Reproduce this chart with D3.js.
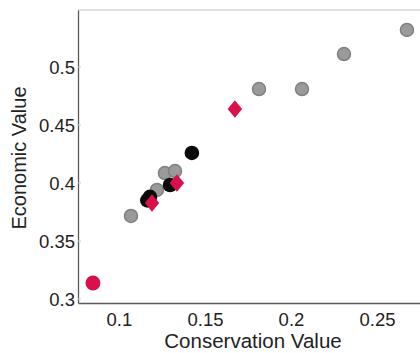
<!DOCTYPE html>
<html>
<head>
<meta charset="utf-8">
<script src="https://d3js.org/d3.v7.min.js"></script>
<style>
  body { margin: 0; background: #fff; }
  svg { display: block; font-family: "Liberation Sans", Arial, sans-serif; }
</style>
</head>
<body>
<svg id="chart" width="420" height="353"></svg>
<script>
// Data
const grayX = [0.107, 0.1221, 0.1267, 0.1326, 0.1814, 0.2064, 0.2308, 0.2674];
const grayY = [0.3716, 0.394, 0.4086, 0.4103, 0.481, 0.481, 0.5112, 0.5319];
const blackX = [0.1165, 0.118, 0.1297, 0.1424];
const blackY = [0.385, 0.388, 0.3983, 0.4259];
const redX = [0.0849, 0.1192, 0.1337, 0.1674];
const redY = [0.3138, 0.3828, 0.40, 0.4638];
const redShape = ['circle', 'diamond', 'diamond', 'diamond'];
const xTicks = [0.1, 0.15, 0.2, 0.25];
const yTicks = [0.3, 0.35, 0.4, 0.45, 0.5];

const svg = d3.select('#chart');
const plotLeft = 78, plotRight = 425, plotTop = 10, plotBottom = 303;

const x = d3.scaleLinear().domain([0.0762, 0.2779]).range([plotLeft, plotRight]);
const y = d3.scaleLinear().domain([0.29655, 0.54914]).range([plotBottom, plotTop]);

// frame (top edge)
svg.append('line')
  .attr('x1', plotLeft).attr('x2', plotRight).attr('y1', plotTop).attr('y2', plotTop)
  .attr('stroke', '#c4c4c4').attr('stroke-width', 1.2);

// axes
const xAxis = svg.append('g')
  .attr('transform', `translate(0,${plotBottom})`)
  .call(d3.axisBottom(x).tickValues(xTicks).tickSize(0).tickPadding(10)
    .tickFormat(d => String(+d.toFixed(2))));
const yAxis = svg.append('g')
  .attr('transform', `translate(${plotLeft},0)`)
  .call(d3.axisLeft(y).tickValues(yTicks).tickSize(0).tickPadding(3)
    .tickFormat(d => String(+d.toFixed(2))));

[xAxis, yAxis].forEach(g => {
  g.select('.domain').attr('stroke', '#5a5a5a').attr('stroke-width', 1.3);
  g.selectAll('text').attr('font-size', 18.5).attr('fill', '#222')
    .attr('font-family', '"Liberation Sans", Arial, sans-serif');
});
yAxis.selectAll('text').attr('dy', '0.36em');
xAxis.selectAll('text').attr('dy', '0.68em');

// small inward ticks
svg.append('g').selectAll('line').data(yTicks).enter().append('line')
  .attr('x1', plotLeft).attr('x2', plotLeft + 3)
  .attr('y1', d => y(d)).attr('y2', d => y(d))
  .attr('stroke', '#ccc');

// axis titles
svg.append('text')
  .attr('x', 253).attr('y', 348)
  .attr('text-anchor', 'middle')
  .attr('font-size', 20.5).attr('fill', '#222')
  .text('Conservation Value');
svg.append('text')
  .attr('transform', 'translate(26,158) rotate(-90)')
  .attr('text-anchor', 'middle')
  .attr('font-size', 20).attr('fill', '#222')
  .text('Economic Value');

// points
const marks = svg.append('g');
marks.selectAll('circle.gray').data(grayX.map((v, i) => [v, grayY[i]]))
  .enter().append('circle')
  .attr('class', 'gray')
  .attr('cx', d => x(d[0])).attr('cy', d => y(d[1]))
  .attr('r', 6.5)
  .attr('fill', '#9a9a9a').attr('stroke', '#808080').attr('stroke-width', 1.5);

marks.selectAll('circle.black').data(blackX.map((v, i) => [v, blackY[i]]))
  .enter().append('circle')
  .attr('class', 'black')
  .attr('cx', d => x(d[0])).attr('cy', d => y(d[1]))
  .attr('r', 7.3)
  .attr('fill', '#0a0a0a');

const sym = d3.symbol();
marks.selectAll('path.red').data(redX.map((v, i) => [v, redY[i], redShape[i]]))
  .enter().append('path')
  .attr('class', 'red')
  .attr('transform', d => d[2] === 'circle'
    ? `translate(${x(d[0])},${y(d[1])})`
    : `translate(${x(d[0])},${y(d[1])}) scale(1,1.2) rotate(45)`)
  .attr('d', d => d[2] === 'circle'
    ? sym.type(d3.symbolCircle).size(175)()
    : sym.type(d3.symbolSquare).size(105)())
  .attr('fill', '#d9104a');
</script>
</body>
</html>
